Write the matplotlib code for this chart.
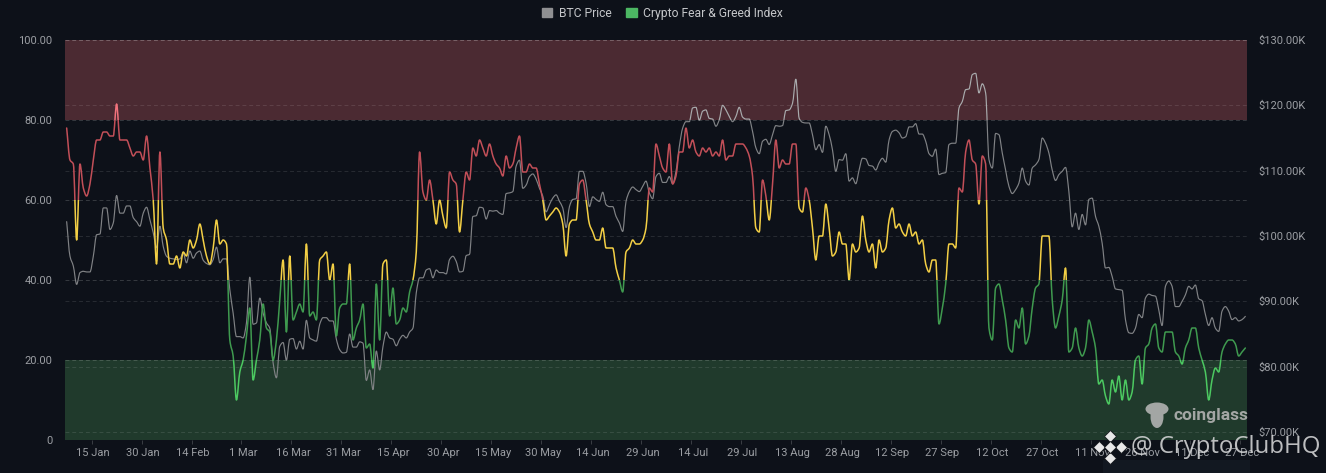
import numpy as np
import matplotlib
matplotlib.use("Agg")
import matplotlib.pyplot as plt
from matplotlib.lines import Line2D
from matplotlib.patches import Ellipse, Patch, PathPatch, Rectangle
from matplotlib.path import Path

plt.rcParams["font.family"] = ["Roboto", "DejaVu Sans"]

# one value per day
fear_greed = [
    78, 70, 69, 50, 69, 63, 61, 64, 70, 75, 75, 77, 77, 76, 76, 84, 75, 75, 75, 73,
    71, 72, 72, 70, 76, 68, 60, 44, 72, 53, 50, 44, 44, 46, 43, 47, 46, 50, 48, 50,
    54, 50, 46, 44, 48, 55, 49, 50, 49, 25, 21, 10, 17, 20, 26, 33, 15, 20, 25, 34,
    28, 27, 20, 25, 35, 45, 27, 46, 30, 32, 34, 32, 49, 31, 32, 30, 45, 46, 47, 40,
    44, 26, 33, 34, 34, 44, 25, 28, 30, 34, 23, 24, 18, 39, 25, 44, 45, 31, 38, 29,
    30, 33, 32, 37, 40, 47, 72, 62, 60, 65, 60, 54, 60, 56, 53, 67, 65, 64, 52, 60,
    67, 65, 73, 71, 75, 73, 71, 74, 71, 69, 68, 66, 71, 68, 69, 73, 76, 67, 67, 69,
    68, 68, 64, 60, 55, 56, 57, 58, 57, 54, 46, 54, 55, 55, 64, 65, 60, 54, 52, 50,
    50, 53, 48, 48, 48, 43, 40, 37, 47, 48, 50, 49, 49, 50, 53, 63, 62, 74, 71, 68,
    67, 74, 64, 66, 72, 72, 78, 73, 75, 72, 71, 73, 72, 73, 71, 72, 71, 75, 70, 71,
    71, 74, 74, 74, 73, 71, 66, 53, 52, 65, 61, 55, 64, 75, 68, 70, 69, 69, 74, 74,
    58, 57, 63, 60, 53, 45, 51, 51, 59, 53, 46, 47, 52, 49, 49, 40, 49, 47, 48, 56,
    50, 47, 49, 43, 50, 47, 48, 55, 58, 53, 54, 52, 51, 54, 51, 52, 49, 50, 44, 42,
    45, 45, 29, 33, 39, 49, 49, 48, 63, 62, 72, 75, 70, 69, 59, 71, 69, 28, 25, 38,
    39, 35, 30, 23, 22, 30, 28, 33, 24, 26, 33, 38, 39, 51, 51, 51, 35, 28, 31, 35,
    43, 22, 23, 28, 23, 21, 23, 30, 27, 23, 14, 15, 11, 9, 15, 12, 16, 10, 15, 10,
    12, 20, 21, 14, 23, 24, 28, 29, 23, 22, 27, 27, 27, 22, 21, 19, 23, 25, 28, 28,
    23, 20, 17, 10, 15, 18, 17, 22, 24, 25, 25, 24, 21, 22, 23,
]
btc_price = [
    102.2, 96.9, 95.4, 92.6, 94.4, 94.6, 94.5, 94.5, 96.9, 100.2, 100.3, 104.3, 104.3, 101.0, 102.0,
    106.2, 103.5, 103.5, 104.6, 104.6, 102.8, 102.2, 101.5, 103.5, 104.4, 102.5, 100.5, 98.2, 101.5, 98.4,
    96.9, 96.6, 96.5, 96.4, 96.5, 97.4, 95.9, 97.7, 96.6, 97.4, 97.7, 96.3, 95.8, 95.6, 96.4,
    98.3, 95.9, 96.5, 96.5, 91.8, 88.2, 84.6, 84.6, 84.4, 86.7, 93.7, 86.5, 86.7, 90.5, 88.2,
    86.7, 85.9, 80.6, 78.3, 83.1, 83.7, 81.0, 84.2, 84.3, 82.7, 83.9, 82.7, 87.1, 84.4, 84.1,
    83.9, 86.5, 87.5, 87.5, 87.0, 87.0, 84.2, 82.6, 82.1, 82.2, 85.0, 83.0, 83.0, 83.8, 83.6,
    77.9, 79.5, 76.5, 82.4, 79.5, 83.1, 85.3, 84.4, 84.2, 83.2, 84.2, 84.8, 84.4, 85.3, 85.9,
    91.3, 93.6, 93.6, 94.8, 95.0, 93.6, 94.8, 94.4, 94.4, 94.2, 96.4, 96.9, 96.1, 94.5, 94.6,
    97.0, 97.2, 103.0, 103.1, 104.4, 104.3, 102.6, 103.9, 103.8, 103.9, 103.5, 103.3, 106.5, 106.6, 106.8,
    110.7, 111.6, 107.3, 107.8, 109.1, 109.5, 108.7, 107.3, 106.1, 103.7, 104.8, 105.8, 106.3, 105.3, 104.3,
    101.3, 104.5, 105.6, 105.7, 109.9, 109.9, 108.1, 104.5, 106.0, 105.6, 105.3, 106.7, 104.8, 104.5, 104.5,
    103.0, 102.0, 100.7, 105.3, 106.8, 107.5, 107.1, 106.8, 107.6, 108.4, 106.6, 105.7, 109.1, 109.6, 108.2,
    108.2, 109.1, 108.0, 109.9, 113.7, 116.5, 117.5, 117.5, 119.6, 119.7, 117.7, 119.1, 119.3, 118.0, 117.9,
    116.8, 117.8, 120.0, 119.3, 118.3, 117.5, 118.3, 119.7, 118.2, 117.9, 117.9, 116.0, 113.5, 112.6, 114.5,
    114.8, 114.0, 115.5, 116.9, 116.8, 116.9, 119.2, 119.3, 120.3, 124.0, 118.0, 117.4, 117.3, 117.3, 115.5,
    113.2, 114.0, 112.8, 116.8, 115.5, 113.2, 109.9, 111.7, 111.6, 112.6, 108.4, 108.9, 108.0, 110.1, 111.9,
    111.8, 110.8, 110.7, 110.1, 111.2, 111.9, 111.3, 114.7, 116.0, 116.2, 115.8, 115.0, 115.2, 116.7, 116.7,
    117.2, 115.6, 115.6, 114.5, 112.6, 112.2, 113.3, 109.4, 109.6, 109.7, 114.0, 114.2, 114.2, 119.6, 120.6,
    122.4, 122.5, 124.7, 124.9, 121.9, 123.3, 121.9, 111.7, 110.4, 115.7, 115.5, 112.7, 110.1, 107.6, 106.5,
    107.1, 108.1, 110.4, 108.4, 107.8, 110.4, 110.9, 111.7, 115.0, 114.2, 112.7, 110.1, 108.5, 109.4, 109.9,
    110.5, 106.8, 101.4, 103.5, 101.0, 103.3, 101.7, 105.6, 105.8, 103.0, 101.5, 98.9, 95.1, 95.2, 93.8,
    91.9, 91.8, 91.7, 87.2, 85.2, 85.1, 85.9, 88.0, 87.5, 90.5, 91.1, 90.9, 90.8, 88.7, 86.3,
    92.3, 93.1, 92.3, 89.2, 89.2, 90.0, 91.0, 92.3, 91.9, 92.5, 90.4, 90.1, 88.0, 86.3, 87.5,
    85.9, 85.4, 88.5, 89.2, 88.5, 87.2, 87.5, 87.0, 87.2, 87.7,
]

tick_days = [8, 23, 38, 53, 68, 83, 98, 113, 128, 143, 158, 173, 188, 203, 218, 233, 248, 263, 278, 293, 308, 323, 338, 353]
tick_labels = ["15 Jan", "30 Jan", "14 Feb", "1 Mar", "16 Mar", "31 Mar", "15 Apr", "30 Apr", "15 May", "30 May",
               "14 Jun", "29 Jun", "14 Jul", "29 Jul", "13 Aug", "28 Aug", "12 Sep", "27 Sep", "12 Oct", "27 Oct",
               "11 Nov", "26 Nov", "11 Dec", "27 Dec"]
left_ticks = [0, 20, 40, 60, 80, 100]
left_labels = ["0", "20.00", "40.00", "60.00", "80.00", "100.00"]
right_ticks = [70, 80, 90, 100, 110, 120, 130]
right_labels = ["$70.00K", "$80.00K", "$90.00K", "$100.00K", "$110.00K", "$120.00K", "$130.00K"]

BG = "#0d1119"
TEXT = "#9b9ea3"


def smooth_path(y):
    """Cubic curve through the daily values, flat at each turning point."""
    y = np.asarray(y, dtype=float)
    x = np.arange(len(y))
    d = np.diff(y)
    m = np.zeros(len(y))
    for k in range(1, len(y) - 1):
        if d[k - 1] * d[k] > 0:
            m[k] = 2 * d[k - 1] * d[k] / (d[k - 1] + d[k])
    m[0], m[-1] = d[0], d[-1]
    verts = [(x[0], y[0])]
    codes = [Path.MOVETO]
    for k in range(len(y) - 1):
        verts += [(x[k] + 1 / 3, y[k] + m[k] / 3), (x[k + 1] - 1 / 3, y[k + 1] - m[k + 1] / 3), (x[k + 1], y[k + 1])]
        codes += [Path.CURVE4] * 3
    return Path(verts, codes)


def draw_clipped(axis, path, color, lw, lo, hi):
    # same curve, only the part between lo and hi shows
    line = PathPatch(path, fill=False, edgecolor=color, linewidth=lw, capstyle="round", joinstyle="round", zorder=4)
    axis.add_patch(line)
    line.set_clip_path(Rectangle((-1, lo), 400, hi - lo, transform=axis.transData))


fig = plt.figure(figsize=(13.26, 4.73), dpi=100, facecolor=BG)
ax = fig.add_axes([65 / 1326, 1 - 440 / 473, (1247 - 65) / 1326, 400 / 473], facecolor=BG)
ax2 = ax.twinx()  # price scale
ax3 = ax.twinx()  # index line sits on top of the price
ax3.set_axis_off()
ax.set_xlim(-0.5, 354.5)
ax.set_ylim(0, 100)
ax3.set_ylim(0, 100)
ax2.set_ylim(68.78, 130)

# extreme greed / extreme fear bands
ax.axhspan(80, 100, color="#4b2a32", lw=0, zorder=1)
ax.axhspan(0, 20, color="#203a2c", lw=0, zorder=1)

for t in left_ticks:
    ax.axhline(t, color="white", alpha=0.17, lw=0.7, ls=(0, (4, 3)), zorder=2)
for t in right_ticks:
    ax2.axhline(t, color="white", alpha=0.11, lw=0.7, ls=(0, (4, 3)), zorder=2)

# grey price line, lighter over the red band
price_path = smooth_path(btc_price)
draw_clipped(ax2, price_path, "#808285", 0.85, 60, 117.75)
draw_clipped(ax2, price_path, "#a9abad", 0.85, 117.75, 135)

# index coloured by zone
index_path = smooth_path(fear_greed)
draw_clipped(ax3, index_path, "#4cc961", 1.1, -5, 20)
draw_clipped(ax3, index_path, "#3f9a4f", 1.1, 20, 40)
draw_clipped(ax3, index_path, "#f3cf45", 1.1, 40, 60)
draw_clipped(ax3, index_path, "#c24f58", 1.1, 60, 80)
draw_clipped(ax3, index_path, "#f2727c", 1.1, 80, 105)

ax.set_xticks(tick_days)
ax.set_xticklabels(tick_labels)
ax.set_xticks([d - 0.5 for d in tick_days], minor=True)
ax.tick_params(axis="x", which="major", length=0, labelsize=8, labelcolor=TEXT, pad=6)
ax.tick_params(axis="x", which="minor", length=3, color="#3a3e44", width=0.7)
ax.set_yticks(left_ticks)
ax.set_yticklabels(left_labels)
ax.tick_params(axis="y", length=0, labelsize=8, labelcolor=TEXT, pad=9)
ax2.set_yticks(right_ticks)
ax2.set_yticklabels(right_labels)
ax2.tick_params(axis="y", length=0, labelsize=8, labelcolor=TEXT, pad=8)
for a in (ax, ax2):
    for s in a.spines.values():
        s.set_visible(False)

fig.legend(handles=[Patch(color="#8f9092", label="BTC Price"), Patch(color="#4cb763", label="Crypto Fear & Greed Index")],
           loc="upper center", bbox_to_anchor=(0.4997, 1.009), ncol=2, frameon=False, fontsize=8.7, labelcolor="#c4c6c9",
           handlelength=0.85, handleheight=0.85, handletextpad=0.55, columnspacing=1.2)

# coinglass mark
for cx, cy, w, h in [(1157, 409, 23, 13), (1157, 417, 13, 22)]:
    fig.add_artist(Ellipse((cx / 1326, 1 - cy / 473), w / 1326, h / 473, transform=fig.transFigure, color="#a3a6a4", lw=0))
fig.text(1174 / 1326, 1 - 415 / 473, "coinglass", color="#a3a6a4", fontsize=12.5, fontweight="bold", va="center", ha="left")

# repost watermark
fig.add_artist(Rectangle((1103 / 1326, 0), 147 / 1326, 13 / 473, transform=fig.transFigure, color="#121821", lw=0, zorder=-1))
for cx, cy, size in [(1110, 436, 6), (1099, 447, 6), (1121, 447, 6), (1110, 458, 6), (1110, 447, 6)]:
    fig.add_artist(Line2D([cx / 1326], [1 - cy / 473], transform=fig.transFigure, marker="D", markersize=size,
                          color="#e8e8e8", markeredgecolor="#15181d", markeredgewidth=0.6))
fig.text(1131 / 1326, 1 - 447 / 473, "@ CryptoClubHQ", color="#d5d6d7", fontsize=17.3, va="center", ha="left", zorder=10,
         family=["Open Sans", "DejaVu Sans"], alpha=0.88)

fig.savefig("out.png", dpi=100, facecolor=BG)
